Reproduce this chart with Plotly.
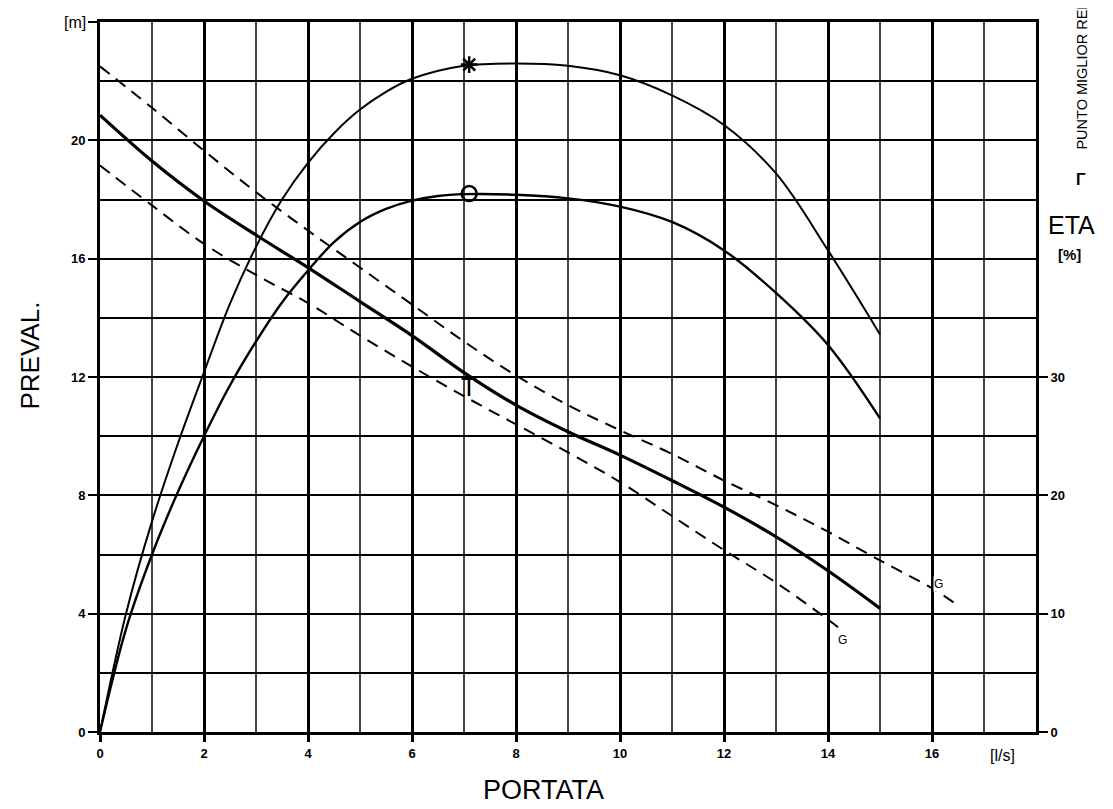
import plotly.graph_objects as go

# ---- data ----
q_head = [0, 1, 2, 3, 4, 5, 6, 7, 8, 9, 10, 11, 12, 13, 14, 15]
h_head = [20.85, 19.3, 17.95, 16.8, 15.7, 14.55, 13.4, 12.15, 11.05, 10.15, 9.36, 8.5, 7.6, 6.6, 5.45, 4.18]

q_tol_hi = [0, 1, 2, 3, 4, 5, 6, 7, 8, 9, 10, 11, 12, 13, 14, 15, 16, 16.44]
h_tol_hi = [22.5, 21.1, 19.65, 18.25, 16.95, 15.7, 14.45, 13.2, 12.05, 11.05, 10.2, 9.4, 8.5, 7.67, 6.77, 5.8, 4.86, 4.35]

q_tol_lo = [0, 1, 2, 3, 4, 5, 6, 7, 8, 9, 10, 11, 12, 13, 14, 14.3]
h_tol_lo = [19.15, 17.8, 16.5, 15.45, 14.5, 13.4, 12.35, 11.35, 10.4, 9.45, 8.45, 7.3, 6.15, 5.05, 3.8, 3.39]

q_eta = [0, 0.5, 1, 1.5, 2, 2.5, 3, 3.5, 4, 4.5, 5, 5.5, 6, 7, 8, 9, 10, 11, 12, 13, 14, 15]
eta_hi = [0, 10, 17.8, 24.4, 30.4, 36.2, 41.0, 45.0, 48.1, 50.6, 52.6, 54.1, 55.2, 56.3, 56.5, 56.3, 55.5, 53.8, 51.3, 47.2, 40.7, 33.6]

q_eta_lo = [0, 0.5, 1, 1.5, 2, 2.5, 3, 3.5, 4, 4.5, 5, 5.5, 6, 6.5, 7, 8, 9, 10, 11, 12, 13, 14, 15]
eta_lo = [0, 8.7, 15.0, 20.3, 25.0, 29.3, 33.0, 36.3, 39.0, 41.4, 43.1, 44.2, 44.9, 45.3, 45.45, 45.4, 45.1, 44.4, 43.1, 40.7, 37.1, 32.7, 26.5]

best_q = [7.1]
best_eta_hi = [56.4]
best_eta_lo = [45.5]
best_h = [12.0]

x_ticks = [0, 2, 4, 6, 8, 10, 12, 14, 16]
x_minor = [1, 3, 5, 7, 9, 11, 13, 15, 17]
y_ticks = [0, 4, 8, 12, 16, 20, 24]
y_ticklabels = ["0", "4", "8", "12", "16", "20", ""]
y_minor = [2, 6, 10, 14, 18, 22]
eta_ticks = [0, 10, 20, 30]

FONT = "Liberation Sans, Arial, sans-serif"

fig = go.Figure()

fig.add_trace(go.Scatter(x=q_tol_hi, y=h_tol_hi, mode="lines",
                         line=dict(color="black", width=2, dash="12px,8px"),
                         line_shape="spline", showlegend=False))
fig.add_trace(go.Scatter(x=q_tol_lo, y=h_tol_lo, mode="lines",
                         line=dict(color="black", width=2, dash="12px,8px"),
                         line_shape="spline", showlegend=False))
fig.add_trace(go.Scatter(x=q_head, y=h_head, mode="lines",
                         line=dict(color="black", width=3.2),
                         line_shape="spline", showlegend=False))

fig.add_trace(go.Scatter(x=q_eta, y=eta_hi, mode="lines", yaxis="y2",
                         line=dict(color="black", width=2),
                         line_shape="spline", showlegend=False))
fig.add_trace(go.Scatter(x=q_eta_lo, y=eta_lo, mode="lines", yaxis="y2",
                         line=dict(color="black", width=2.4),
                         line_shape="spline", showlegend=False))

fig.add_trace(go.Scatter(x=best_q, y=best_eta_hi, mode="markers", yaxis="y2",
                         marker=dict(symbol="asterisk-open", size=14, color="black",
                                     line=dict(color="black", width=2.5)),
                         showlegend=False))
fig.add_trace(go.Scatter(x=best_q, y=best_eta_lo, mode="markers", yaxis="y2",
                         marker=dict(symbol="circle-open", size=15, color="black",
                                     line=dict(color="black", width=2.5)),
                         showlegend=False))

annotations = [
    dict(x=best_q[0], y=best_h[0], xref="x", yref="y", text="T", showarrow=False,
         font=dict(family=FONT, size=26, color="black"), yanchor="top", yshift=7),
    dict(x=16.12, y=5.0, xref="x", yref="y", text="G", showarrow=False,
         font=dict(family=FONT, size=12, color="black"), bgcolor="white", borderpad=0),
    dict(x=14.27, y=3.1, xref="x", yref="y", text="G", showarrow=False,
         font=dict(family=FONT, size=12, color="black"), bgcolor="white", borderpad=0),
    dict(x=-0.013, y=24, xref="paper", yref="y", text="[m]", showarrow=False,
         xanchor="right", yanchor="middle",
         font=dict(family=FONT, size=16, color="black")),
    dict(x=17.35, y=-0.018, xref="x", yref="paper", text="[l/s]", showarrow=False,
         xanchor="center", yanchor="top",
         font=dict(family=FONT, size=16, color="black")),
    dict(x=-0.075, y=0.53, xref="paper", yref="paper", text="PREVAL.", showarrow=False,
         textangle=-90, xanchor="center", yanchor="middle",
         font=dict(family=FONT, size=26, color="black")),
    dict(x=0.474, y=-0.058, xref="paper", yref="paper", text="PORTATA", showarrow=False,
         xanchor="center", yanchor="top",
         font=dict(family=FONT, size=27, color="black")),
    dict(x=1.038, y=0.714, xref="paper", yref="paper", text="ETA", showarrow=False,
         xanchor="center", yanchor="middle",
         font=dict(family=FONT, size=25, color="black")),
    dict(x=1.036, y=0.672, xref="paper", yref="paper", text="<b>[%]</b>", showarrow=False,
         xanchor="center", yanchor="middle",
         font=dict(family=FONT, size=15, color="black")),
    dict(x=1.048, y=0.778, xref="paper", yref="paper", text="<b>Γ</b>", showarrow=False,
         xanchor="center", yanchor="middle",
         font=dict(family=FONT, size=16, color="black")),
    dict(x=1.049, y=0.818, xref="paper", yref="paper",
         text="PUNTO MIGLIOR RENDIMENTO", showarrow=False, textangle=-90,
         xanchor="center", yanchor="bottom",
         font=dict(family=FONT, size=14.5, color="black")),
]

fig.update_layout(
    width=1105, height=801,
    margin=dict(l=92, r=77, t=14, b=77),
    plot_bgcolor="white", paper_bgcolor="white",
    font=dict(family=FONT, color="black"),
    showlegend=False,
    annotations=annotations,
    xaxis=dict(
        range=[0, 18], tickmode="array", tickvals=x_ticks,
        ticks="outside", ticklen=7, tickwidth=2.5, tickcolor="black",
        tickfont=dict(family=FONT, size=13, color="black", weight="bold"),
        showgrid=True, gridcolor="black", gridwidth=2.5,
        minor=dict(tickmode="array", tickvals=x_minor, showgrid=True,
                   gridcolor="#444444", gridwidth=1.8, ticks=""),
        showline=True, linecolor="black", linewidth=3, mirror=True,
        zeroline=False, fixedrange=True,
    ),
    yaxis=dict(
        range=[0, 24], tickmode="array", tickvals=y_ticks, ticktext=y_ticklabels,
        ticks="outside", ticklen=9, tickwidth=2, tickcolor="black",
        tickfont=dict(family=FONT, size=13, color="black", weight="bold"),
        showgrid=True, gridcolor="black", gridwidth=2,
        minor=dict(tickmode="array", tickvals=y_minor, showgrid=True,
                   gridcolor="black", gridwidth=2, ticks=""),
        showline=True, linecolor="black", linewidth=3, mirror=True,
        zeroline=False, fixedrange=True,
    ),
    yaxis2=dict(
        range=[0, 60], overlaying="y", side="right",
        tickmode="array", tickvals=eta_ticks,
        ticks="outside", ticklen=9, tickwidth=2, tickcolor="black",
        tickfont=dict(family=FONT, size=13, color="black", weight="bold"),
        showgrid=False, showline=True, linecolor="black", linewidth=3,
        zeroline=False, fixedrange=True,
    ),
)

fig.write_html("out.html")
